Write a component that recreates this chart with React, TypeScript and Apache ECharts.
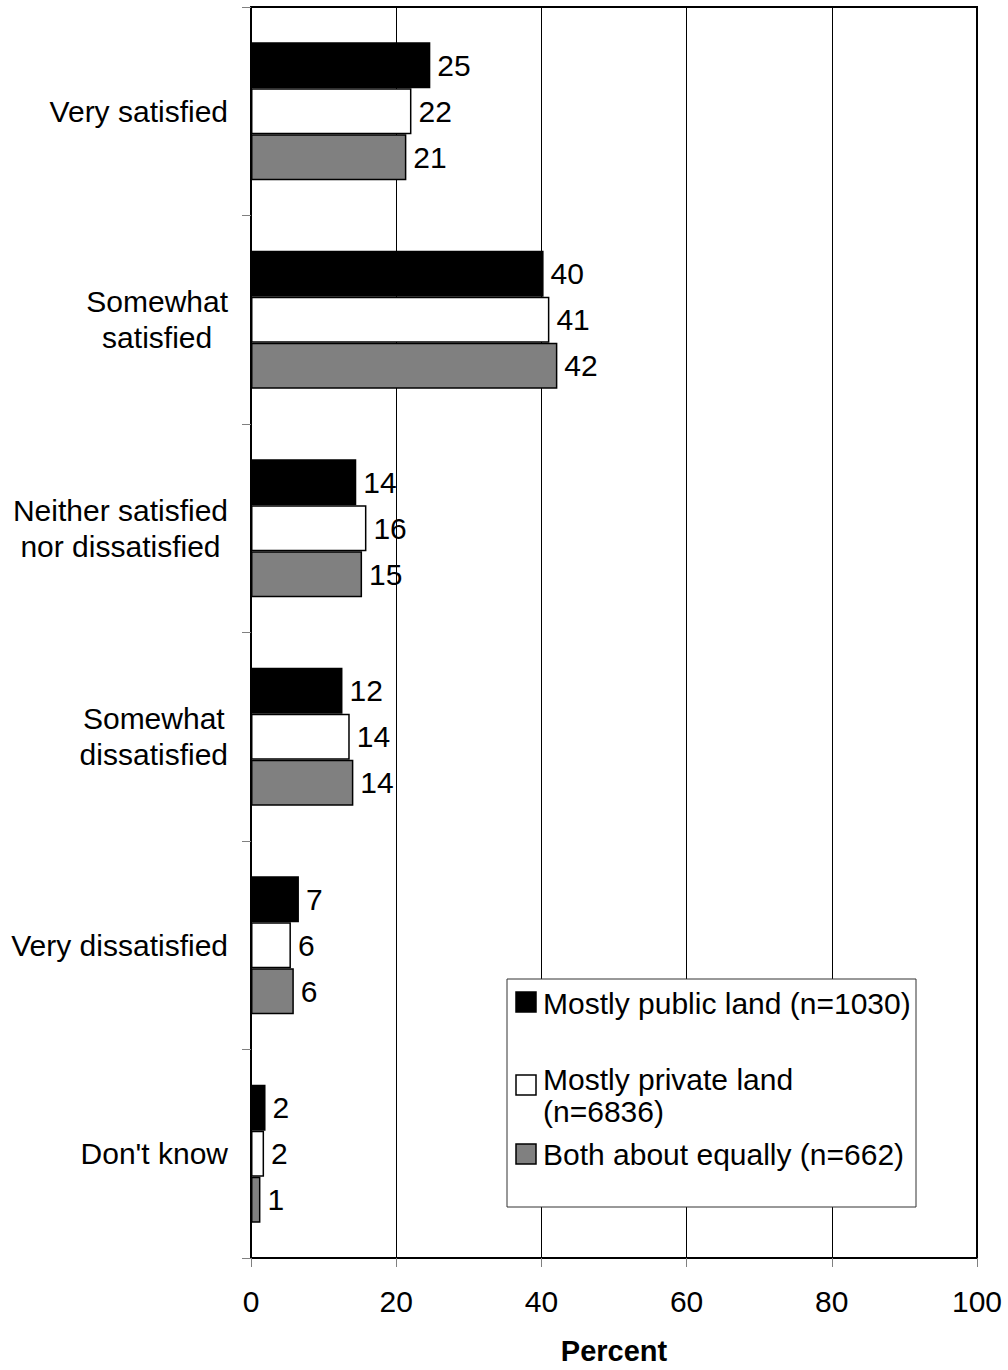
import React, { useEffect, useRef } from "react";
import * as echarts from "echarts";

// ---- Data ----
const categories = [
  "Very satisfied",
  "Somewhat\nsatisfied",
  "Neither satisfied\nnor dissatisfied",
  "Somewhat\ndissatisfied",
  "Very dissatisfied",
  "Don't know",
];
const seriesNames = [
  "Mostly public land (n=1030)",
  "Mostly private land\n(n=6836)",
  "Both about equally (n=662)",
];
// bar lengths (percent)
const publicLand = [24.7, 40.3, 14.5, 12.6, 6.6, 2.0];
const privateLand = [22.1, 41.1, 15.9, 13.6, 5.5, 1.8];
const bothEqually = [21.4, 42.2, 15.3, 14.1, 5.9, 1.3];
// printed value labels
const publicLabels = [25, 40, 14, 12, 7, 2];
const privateLabels = [22, 41, 16, 14, 6, 2];
const bothLabels = [21, 42, 15, 14, 6, 1];
const xMin = 0;
const xMax = 100;
const xInterval = 20;
const axisTitle = "Percent";

const seriesColors = ["#000000", "#ffffff", "#808080"];
const FONT = "'Liberation Sans', Arial, Helvetica, sans-serif";
const FS = 30;

export default function App() {
  const ref = useRef<HTMLDivElement>(null);
  useEffect(() => {
    if (!ref.current) return;
    const chart = echarts.init(ref.current, null, { renderer: "svg" });
    const values = [publicLand, privateLand, bothEqually];
    const labels = [publicLabels, privateLabels, bothLabels];

    // legend (drawn as graphic to match the original layout)
    const legendTextCenters = [1003, 1079, 1154];
    const legendSquareTops = [992, 1075, 1144];
    const legendChildren: any[] = [
      {
        type: "rect",
        z: 100,
        shape: { x: 507, y: 979, width: 409, height: 228 },
        style: { fill: "#ffffff", stroke: "#333333", lineWidth: 1 },
      },
    ];
    seriesNames.forEach((name, i) => {
      legendChildren.push({
        type: "rect",
        z: 101,
        shape: { x: 516, y: legendSquareTops[i], width: 20, height: 20 },
        style: { fill: seriesColors[i], stroke: "#000000", lineWidth: 1.5 },
      });
      legendChildren.push({
        type: "text",
        z: 101,
        x: 543,
        y: legendTextCenters[i] - 16,
        style: {
          text: name,
          fill: "#000000",
          fontSize: FS,
          fontFamily: FONT,
          lineHeight: 32,
          verticalAlign: "top",
          align: "left",
        },
      });
    });

    chart.setOption({
      animation: false,
      backgroundColor: "#ffffff",
      textStyle: { fontFamily: FONT },
      grid: {
        left: 251,
        right: 31,
        top: 7,
        bottom: 110,
        show: true,
        borderColor: "#000000",
        borderWidth: 2,
        backgroundColor: "transparent",
      },
      xAxis: {
        type: "value",
        min: xMin,
        max: xMax,
        interval: xInterval,
        name: axisTitle,
        nameLocation: "middle",
        nameGap: 78,
        nameTextStyle: {
          fontSize: 29,
          fontWeight: "bold",
          color: "#000000",
          fontFamily: FONT,
        },
        axisLine: { show: true, lineStyle: { color: "#000000", width: 2 } },
        axisTick: {
          show: true,
          inside: false,
          length: 9,
          lineStyle: { color: "#808080", width: 1 },
        },
        axisLabel: {
          fontSize: FS,
          color: "#000000",
          margin: 28,
          fontFamily: FONT,
        },
        splitLine: { show: true, lineStyle: { color: "#000000", width: 1 } },
      },
      yAxis: {
        type: "category",
        data: categories,
        inverse: true,
        axisLine: { show: true, lineStyle: { color: "#000000", width: 1.5 } },
        axisTick: {
          show: true,
          alignWithLabel: false,
          length: 9,
          lineStyle: { color: "#808080", width: 1 },
        },
        axisLabel: {
          margin: 23,
          align: "right",
          fontSize: FS,
          color: "#000000",
          fontFamily: FONT,
          lineHeight: 36,
          formatter: (v: string) =>
            v
              .split("\n")
              .map((l) => `{c|${l}}`)
              .join("\n"),
          rich: {
            c: {
              align: "center",
              fontSize: FS,
              lineHeight: 36,
              color: "#000000",
              fontFamily: FONT,
            },
          },
        },
      },
      series: seriesNames.map((name, i) => ({
        type: "bar",
        name,
        data: values[i],
        barWidth: 46,
        barGap: "0%",
        itemStyle: {
          color: seriesColors[i],
          borderColor: "#000000",
          borderWidth: 1.5,
        },
        label: {
          show: true,
          position: "right",
          distance: 7,
          fontSize: FS,
          color: "#000000",
          fontFamily: FONT,
          formatter: (p: any) => String(labels[i][p.dataIndex]),
        },
        z: 3,
      })),
      graphic: [{ type: "group", z: 100, children: legendChildren }],
    });
    return () => chart.dispose();
  }, []);
  return (
    <div
      ref={ref}
      style={{ position: "absolute", left: 0, top: 0, width: 1008, height: 1370 }}
    />
  );
}
